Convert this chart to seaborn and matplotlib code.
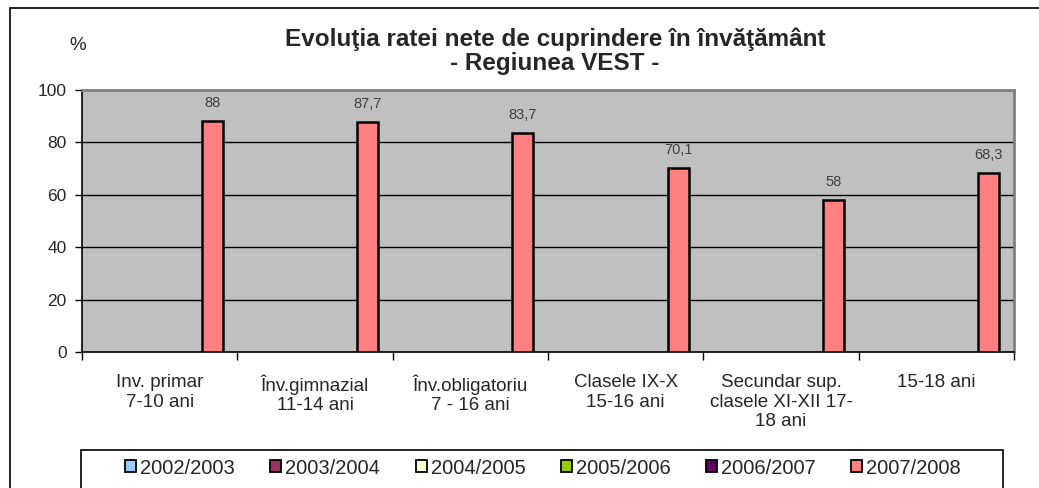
import pandas as pd
import seaborn as sns
import matplotlib.pyplot as plt
from matplotlib.patches import Patch, Rectangle

categorii = ["Inv. primar\n7-10 ani", "Înv.gimnazial\n11-14 ani", "Înv.obligatoriu\n7 - 16 ani",
             "Clasele IX-X\n15-16 ani", "Secundar sup.\nclasele XI-XII 17-\n18 ani", "15-18 ani"]
ani = ["2002/2003", "2003/2004", "2004/2005", "2005/2006", "2006/2007", "2007/2008"]
culori = ["#99CCFF", "#993366", "#FFFFCC", "#99CC00", "#660066", "#FF8080"]
rata_2007 = [88, 87.7, 83.7, 70.1, 58, 68.3]

sns.set_style("white")
plt.rcParams['font.family'] = ['Liberation Sans', 'DejaVu Sans']

df = pd.DataFrame({"categorie": categorii, "an": "2007/2008", "rata": rata_2007})

fig = plt.figure(figsize=(10.39, 4.88), dpi=100)
ax = fig.add_axes([82/1039, 1 - 352/488, (1014-82)/1039, (352-90)/488])
ax.set_facecolor("#C0C0C0")

sns.barplot(data=df, x="categorie", y="rata", hue="an", hue_order=ani,
            palette=dict(zip(ani, culori)), width=0.81, dodge=True, saturation=1,
            edgecolor="black", linewidth=1.8, legend=False, ax=ax, zorder=3)

etichete = [str(v).replace(".", ",") for v in rata_2007]
for c in ax.containers:
    bare = [p for p in c if p is not None]
    if len(bare) == len(rata_2007):
        for p, t in zip(bare, etichete):
            ax.annotate(t, (p.get_x() + p.get_width() / 2, p.get_height()),
                        xytext=(0, 8), textcoords="offset points", ha="center", va="bottom",
                        fontsize=10.5, color="#404040")

ax.set_ylim(0, 100)
ax.set_xlim(-0.5, 5.5)
ax.set_yticks([0, 20, 40, 60, 80, 100])
ax.tick_params(axis="y", length=5, width=1, color="black", labelsize=12.5, pad=6, left=True)
ax.set_xticks(range(6))
ax.set_xticklabels(categorii, fontsize=13.5, linespacing=1.2)
ax.tick_params(axis="x", length=0, pad=16)
ax.set_xticks([i - 0.5 for i in range(7)], minor=True)
ax.tick_params(axis="x", which="minor", length=6, width=1, color="black", bottom=True)
ax.set_xlabel("")
ax.set_ylabel("")
for y in [20, 40, 60, 80]:
    ax.axhline(y, color="black", lw=1, zorder=1)
for s in ["left", "bottom"]:
    ax.spines[s].set_color("black")
    ax.spines[s].set_linewidth(1.2)
for s in ["top", "right"]:
    ax.spines[s].set_color("#808080")
    ax.spines[s].set_linewidth(2)

fig.text(555/1039, 1 - 51/488, "Evoluţia ratei nete de cuprindere în învăţământ\n- Regiunea VEST -",
         ha="center", va="center", fontsize=17.5, fontweight="bold", linespacing=1.05)
fig.text(78/1039, 1 - 46/488, "%", ha="center", va="center", fontsize=13.5)

# chenarul graficului si al legendei
fig.patches.append(Rectangle((10/1039, -0.05), 1.1, 1 - 8/488 + 0.05, transform=fig.transFigure,
                             fill=False, edgecolor="black", lw=1.2))
fig.patches.append(Rectangle((81/1039, -0.05), (1003-81)/1039, 1 - 450/488 + 0.05,
                             transform=fig.transFigure, fill=False, edgecolor="black", lw=1.2))

handles = [Patch(facecolor=c, edgecolor="black", linewidth=1.3) for c in culori]
fig.legend(handles, ani, ncol=6, frameon=False, loc="center", bbox_to_anchor=(543/1039, 1 - 468/488),
           fontsize=14.5, handlelength=0.55, handleheight=0.55, handletextpad=0.2, columnspacing=1.75)

fig.savefig("out.png", dpi=100)
